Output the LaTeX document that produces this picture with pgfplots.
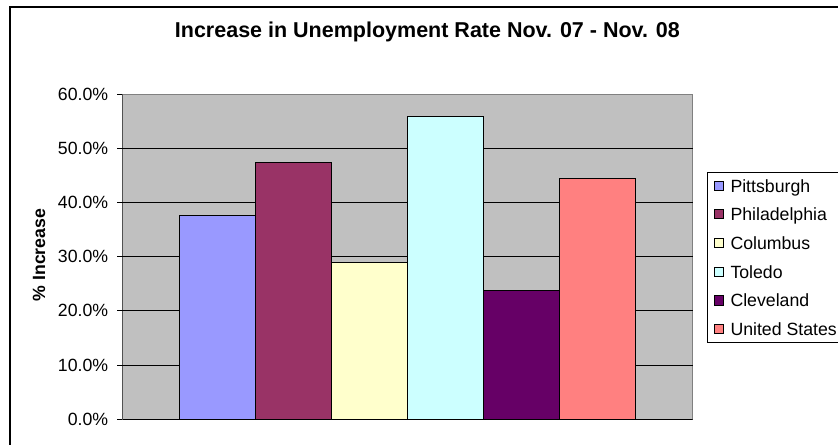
\documentclass[border=0pt]{standalone}
\usepackage{fontspec}
\setmainfont{Liberation Sans}
\usepackage{pgfplots}
\pgfplotsset{compat=1.18}
\definecolor{cPit}{HTML}{9999FF}
\definecolor{cPhi}{HTML}{993366}
\definecolor{cCol}{HTML}{FFFFCC}
\definecolor{cTol}{HTML}{CCFFFF}
\definecolor{cCle}{HTML}{660066}
\definecolor{cUS}{HTML}{FF8080}
\definecolor{plotgray}{HTML}{C0C0C0}
\definecolor{bordergray}{HTML}{808080}
\begin{document}
\begin{tikzpicture}
\begin{axis}[
  at={(122.7bp,25.7bp)}, anchor=south west,
  scale only axis, width=570bp, height=325.3bp,
  xmin=-1.25, xmax=6.25, ymin=0, ymax=60,
  xtick=\empty,
  ytick={0,10,20,30,40,50,60},
  ytick pos=left,
  extra y ticks={10,20,30,40,50},
  extra y tick labels={},
  extra y tick style={grid=major},
  major grid style={black, line width=1bp},
  ybar, bar width=76bp, bar shift=0pt,
  axis background/.style={fill=plotgray},
  axis line style={draw=bordergray, line width=1bp},
  tick align=outside, major tick length=5.4bp,
  ytick style={black, line width=1bp},
  /pgf/number format/assume math mode=true,
  yticklabel={\pgfmathprintnumber[fixed,fixed zerofill,precision=1]{\tick}\%},
  yticklabel style={font=\fontsize{17.7bp}{21bp}\selectfont, anchor=east, inner sep=0pt, xshift=-9bp},
  title={\textbf{Increase in Unemployment Rate Nov. 07 - Nov. 08}},
  title style={font=\fontsize{21.5bp}{25bp}\selectfont, at={(axis description cs:0.5346,1.1558)}, anchor=base, inner sep=0pt},
  ylabel={\textbf{\% Increase}},
  ylabel style={font=\fontsize{17.7bp}{21bp}\selectfont, at={(axis description cs:-0.1468,0.505)}, anchor=center, inner sep=0pt},
  legend style={at={(axis description cs:1.0251,0.7602)}, anchor=north west,
    draw=black, line width=1bp, fill=white, inner xsep=6bp, inner ysep=6.8bp,
    row sep=16bp, column sep=6.5bp,
    nodes={inner sep=0pt, text depth=0pt, text height=12.7bp},
    font=\fontsize{17.7bp}{21bp}\selectfont},
  legend cell align=left,
  legend image code/.code={\draw[#1, draw=black, line width=1bp] (0bp,-4.6bp) rectangle (9.5bp,4.6bp);},
  every axis plot/.append style={draw=black, line width=1bp},
]
\addplot[fill=cPit] coordinates {(0,37.5)};
\addlegendentry{Pittsburgh}
\addplot[fill=cPhi] coordinates {(1,47.4)};
\addlegendentry{Philadelphia}
\addplot[fill=cCol] coordinates {(2,28.9)};
\addlegendentry{Columbus}
\addplot[fill=cTol] coordinates {(3,55.9)};
\addlegendentry{Toledo}
\addplot[fill=cCle] coordinates {(4,23.8)};
\addlegendentry{Cleveland}
\addplot[fill=cUS] coordinates {(5,44.5)};
\addlegendentry{United States}
\draw[black, line width=1bp] (rel axis cs:0,1) -- (rel axis cs:0,0) -- (rel axis cs:1,0);
\end{axis}
\draw[black, line width=1.2bp] (10bp,-20bp) rectangle (900bp,438bp);
\pgfresetboundingbox
\path[use as bounding box] (0,0) rectangle (838bp,445bp);
\end{tikzpicture}
\end{document}
